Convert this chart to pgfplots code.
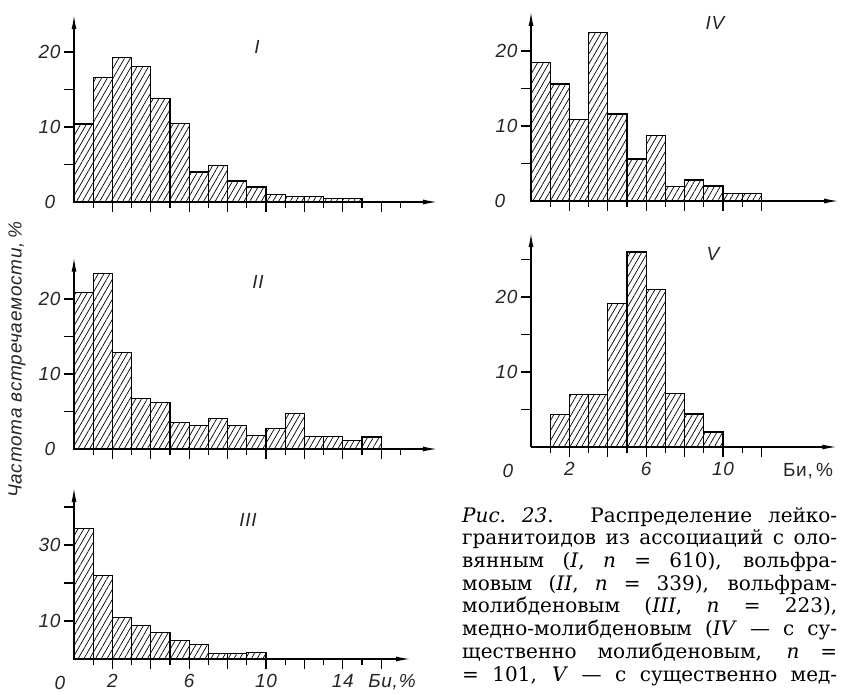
\documentclass[border=0pt]{standalone}
\usepackage{fontspec}
\setmainfont{DejaVu Serif}
\newfontfamily\gostfam{Liberation Sans}[LetterSpace=4.0]
\usepackage{pgfplots}
\pgfplotsset{compat=1.18}
\usetikzlibrary{arrows.meta,patterns.meta}
\newcommand\gi{\gostfam\itshape\fontsize{19}{22}\selectfont}
\newcommand\gu{\gostfam\fontsize{19}{22}\selectfont}
\pgfplotsset{
  hist/.style={
    scale only axis, axis lines=left, xmin=0, ymin=0,
    anchor=south west, clip=false,
    axis line style={line width=1.2pt, -{Latex[length=14pt,width=5pt]}},
    tick align=outside,
    tick style={black, line width=1.1pt},
    major tick length=10pt, minor tick length=6pt,
    ticklabel style={font=\gi, text=black!85},
    xticklabel style={yshift=-2pt},
    xticklabels={},
  },
  bars/.style={ybar interval, draw=black, line width=1.1pt,
     pattern={Lines[angle=60,distance=5pt,line width=0.7pt]}, pattern color=black},
}
\begin{document}
\begin{tikzpicture}
\useasboundingbox (0pt,0pt) rectangle (842pt,694pt);
% Panel I
\begin{axis}[hist, at={(74pt,492pt)}, width=362.9pt, height=186.75pt, xmax=18.9, ymax=24.9,
  xtick={2,4,...,16}, minor xtick={1,3,...,17}, ytick={5,10,15,20}, yticklabels={,10,,20}]
\addplot[bars] coordinates {(0,10.4)(1,16.6)(2,19.3)(3,18.1)(4,13.8)(5,10.5)(6,4.0)(7,4.9)(8,2.8)(9,2.0)(10,1.0)(11,0.7)(12,0.7)(13,0.5)(14,0.5)(15,0.5)};
\end{axis}
% Panel II
\begin{axis}[hist, at={(74pt,245pt)}, width=362.9pt, height=191.25pt, xmax=18.9, ymax=25.5,
  xtick={2,4,...,16}, minor xtick={1,3,...,17}, ytick={5,10,15,20}, yticklabels={,10,,20}]
\addplot[bars] coordinates {(0,20.9)(1,23.4)(2,12.9)(3,6.7)(4,6.2)(5,3.5)(6,3.1)(7,4.1)(8,3.1)(9,1.8)(10,2.7)(11,4.7)(12,1.7)(13,1.7)(14,1.1)(15,1.6)(16,1.6)};
\end{axis}
% Panel III
\begin{axis}[hist, at={(74pt,35pt)}, width=336pt, height=171pt, xmax=17.5, ymax=45,
  xtick={2,4,...,16}, minor xtick={1,3,...,15}, xticklabels={2,,6,,10,,14,},
  ytick={10,20,30,40}, yticklabels={10,,30,}]
\addplot[bars] coordinates {(0,34.3)(1,22.0)(2,11.0)(3,8.7)(4,6.9)(5,4.8)(6,3.9)(7,1.4)(8,1.4)(9,1.6)(10,1.6)};
\end{axis}
% Panel IV
\begin{axis}[hist, at={(531pt,493pt)}, width=307.2pt, height=189pt, xmax=16, ymax=25.2,
  xtick={2,4,...,12}, minor xtick={1,3,...,11}, ytick={5,10,15,20}, yticklabels={,10,,20}]
\addplot[bars] coordinates {(0,18.5)(1,15.6)(2,10.9)(3,22.5)(4,11.6)(5,5.6)(6,8.7)(7,1.9)(8,2.8)(9,2.0)(10,1.0)(11,1.0)(12,1.0)};
\end{axis}
% Panel V
\begin{axis}[hist, at={(531pt,247pt)}, width=305.3pt, height=213.75pt, xmax=15.9, ymax=28.5,
  xtick={2,4,...,12}, minor xtick={1,3,...,11}, xticklabels={2,,6,,10,},
  ytick={5,10,15,20,25}, yticklabels={,10,,20,}]
\addplot[bars] coordinates {(1,4.3)(2,7.0)(3,7.0)(4,19.1)(5,26.0)(6,21.0)(7,7.1)(8,4.4)(9,2.0)(10,2.0)};
\end{axis}
% labels
\begin{scope}[every node/.style={text=black!85, inner sep=0pt}]
\node[font=\gi] at (257pt,647pt) {I};
\node[font=\gi] at (258pt,412pt) {II};
\node[font=\gi] at (248pt,174pt) {III};
\node[font=\gi] at (715pt,671pt) {IV};
\node[font=\gi] at (713pt,440pt) {V};
\node[font=\gi] at (50pt,492pt) {0};
\node[font=\gi] at (50pt,245pt) {0};
\node[font=\gi] at (500pt,493pt) {0};
\node[font=\gi] at (60pt,11pt) {0};
\node[font=\gi] at (508pt,223pt) {0};
\node[font=\gi] at (392pt,12pt) {Би,\%};
\node[font=\gu] at (808pt,223pt) {Би,\,\%};
\node[font=\gi, rotate=90] at (17pt,334pt) {Частота встречаемости,\,\%};
\node[anchor=north west, text=black] at (462pt,187pt) {\vbox{\hsize=375pt \fontsize{20}{22.7}\selectfont
\hbox to\hsize{\textit{Рис.\ 23}. Распределение лейко-}
\hbox to\hsize{гранитоидов из ассоциаций с оло-}
\hbox to\hsize{вянным (\textit{I}, \textit{n} = 610), вольфра-}
\hbox to\hsize{мовым (\textit{II}, \textit{n} = 339), вольфрам-}
\hbox to\hsize{молибденовым (\textit{III}, \textit{n} = 223),}
\hbox to\hsize{медно-молибденовым (\textit{IV} — с су-}
\hbox to\hsize{щественно молибденовым, \textit{n} =}
\hbox to\hsize{= 101, \textit{V} — с существенно мед-}
}};
\end{scope}
\end{tikzpicture}
\end{document}
